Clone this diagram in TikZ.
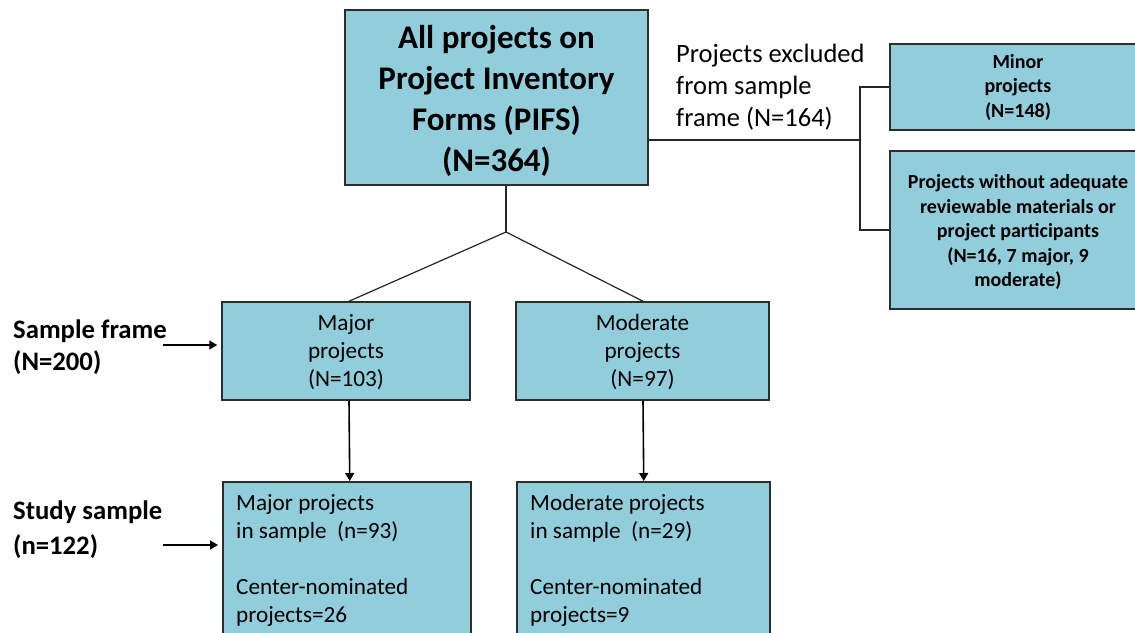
\documentclass[tikz,border=0pt]{standalone}
\usepackage{fontspec}
\setmainfont{Carlito}
\usetikzlibrary{arrows.meta,calc}
\definecolor{boxfill}{RGB}{146,205,220}
\definecolor{boxline}{RGB}{45,45,45}
\begin{document}
\begin{tikzpicture}[x=1pt,y=-1pt,
  box/.style={draw=boxline,line width=1.5pt,fill=boxfill,inner sep=0pt},
  conn/.style={draw=black!85,line width=1.2pt},
  arr/.style={draw=black,line width=1.6pt,-{Triangle[length=8pt,width=9pt]}},
  bigtxt/.style={font=\bfseries\fontsize{33}{41}\selectfont,align=center},
  midtxt/.style={font=\fontsize{23.2}{28}\selectfont},
  smalltxt/.style={font=\bfseries\fontsize{20}{24.5}\selectfont,align=center},
  lbltxt/.style={font=\bfseries\fontsize{26.7}{32}\selectfont,align=left,inner sep=0pt},
  exctxt/.style={font=\fontsize{26.5}{32}\selectfont,align=left,inner sep=0pt}
]
\clip (0,0) rectangle (1135,632);
\fill[white] (0,0) rectangle (1135,632);

% boxes
\node[box,minimum width=303pt,minimum height=175pt] (all) at (496.5,97.5) {};
\node[bigtxt,inner sep=0pt] (allt) at (496.5,100.5)
  {All projects on\\Project Inventory\\Forms (PIFS)\\(N=364)};
\node[box,smalltxt,minimum width=256pt,minimum height=86pt] (minor) at (1018,87)
  {Minor\\projects\\(N=148)};
\node[box,minimum width=256pt,minimum height=158pt] (noreview) at (1018,230) {};
\node[smalltxt,inner sep=0pt] (noreviewt) at (1018,232)
  {Projects without adequate\\reviewable materials or\\project participants\\(N=16, 7 major, 9\\moderate)};
\node[box,minimum width=248pt,minimum height=98pt] (maj) at (346,351) {};
\node[midtxt,align=center,inner sep=0pt] (majt) at (346,352.5)
  {Major\\projects\\(N=103)};
\node[box,minimum width=253pt,minimum height=98pt] (mod) at (642.5,351) {};
\node[midtxt,align=center,inner sep=0pt] (modt) at (642.5,352.5)
  {Moderate\\projects\\(N=97)};
\node[box,anchor=north west,minimum width=248pt,minimum height=180pt] (majs) at (222,481) {};
\node[box,anchor=north west,minimum width=253pt,minimum height=180pt] (mods) at (516,481) {};
\node[midtxt,align=left,inner sep=0pt,anchor=north west] (majst) at (236,494.5)
  {Major projects\\in sample\ \ (n=93)\\[28pt]Center-nominated\\projects=26};
\node[midtxt,align=left,inner sep=0pt,anchor=north west] (modst) at (530,494.5)
  {Moderate projects\\in sample\ \ (n=29)\\[28pt]Center-nominated\\projects=9};

% texts
\node[exctxt,anchor=north west] (exc) at (676,44)
  {Projects excluded\\from sample\\frame (N=164)};
\node[lbltxt,anchor=north west] (sf) at (13,320) {Sample frame\\(N=200)};
\node[lbltxt,font=\bfseries\fontsize{26.7}{35}\selectfont,anchor=north west] (ss) at (13,501) {Study sample\\(n=122)};

% connectors
\coordinate (j) at (506,232);
\draw[conn] (all.south -| j) -- (j);
\draw[conn] (j) -- ($(maj.north)+(3,0)$);
\draw[conn] (j) -- ($(mod.north)+(0.5,0)$);
\coordinate (split) at (860,140);
\draw[conn] ([yshift=-42.5pt]all.east) -- (split);
\draw[conn] (minor.west) -| (split) |- (noreview.west);
\draw[arr] ($(maj.south)+(3,0)$) -- ($(majs.north)+(3,0)$);
\draw[arr] ($(mod.south)+(0.5,0)$) -- ($(mods.north)+(0.5,0)$);
\coordinate (sfa) at (163,345);
\coordinate (ssa) at (163,545);
\draw[arr,shorten >=4pt] (sfa) -- (sfa -| maj.west);
\draw[arr,shorten >=4pt] (ssa) -- (ssa -| majs.west);
\end{tikzpicture}
\end{document}
